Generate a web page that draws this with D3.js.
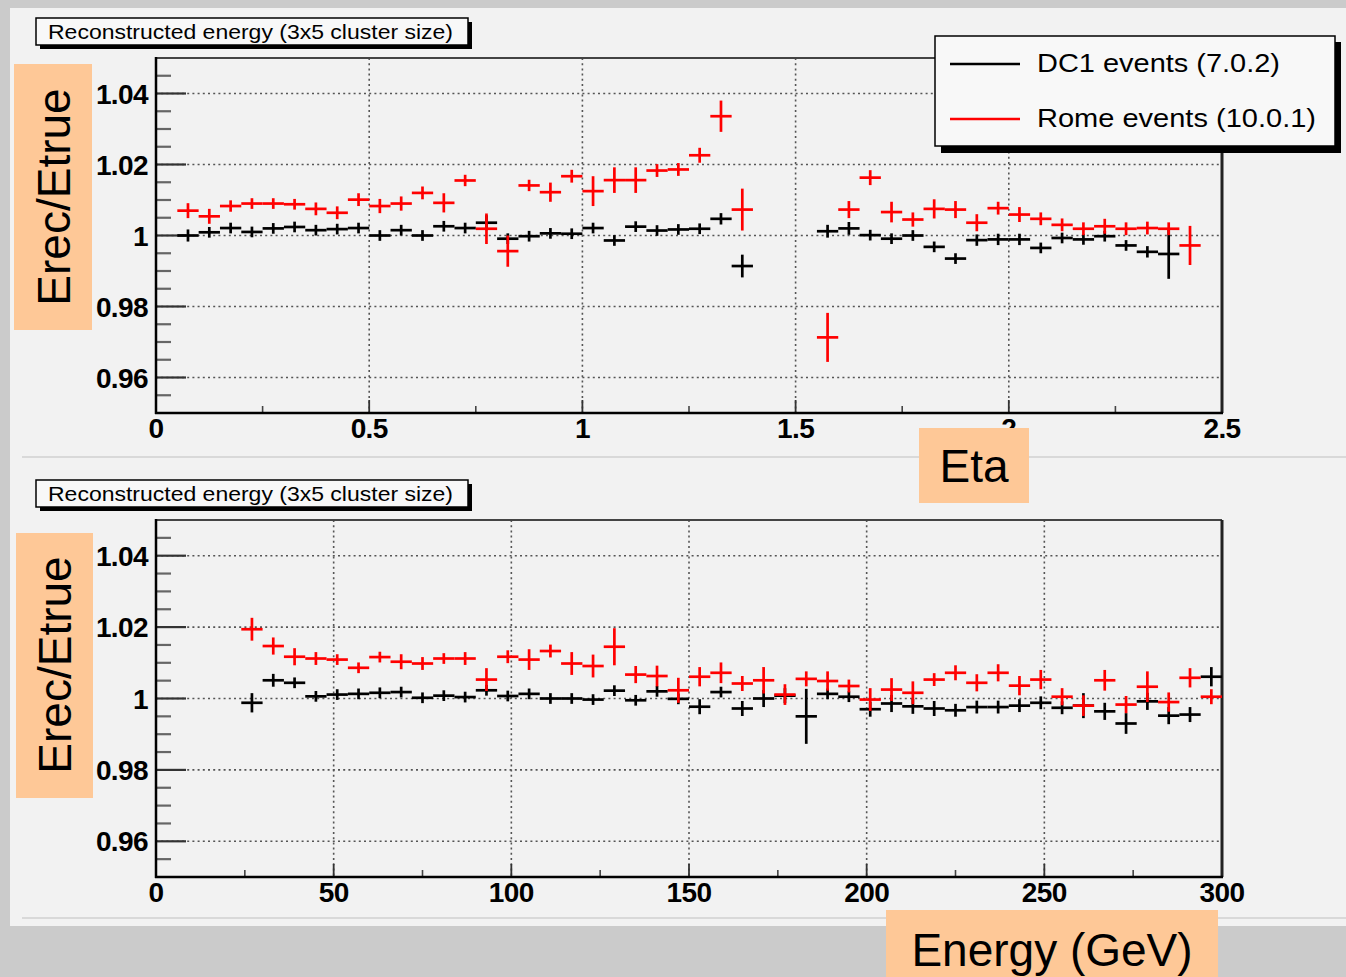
<!DOCTYPE html>
<html>
<head>
<meta charset="utf-8">
<script src="https://cdn.jsdelivr.net/npm/d3@7"></script>
<style>
  html, body { margin: 0; padding: 0; background: #cbcbcb; }
  svg { display: block; }
  text { font-family: "Liberation Sans", Arial, Helvetica, sans-serif; }
</style>
</head>
<body>
<svg id="c" width="1346" height="977"></svg>
<script>
// ---- Eta binning (bin centres, 0.05 wide) ----
const etaCentres = [0.075,0.125,0.175,0.225,0.275,0.325,0.375,0.425,0.475,0.525,0.575,0.625,0.675,0.725,0.775,0.825,0.875,0.925,0.975,1.025,1.075,1.125,1.175,1.225,1.275,1.325,1.375,
                    1.575,1.625,1.675,1.725,1.775,1.825,1.875,1.925,1.975,2.025,2.075,2.125,2.175,2.225,2.275,2.325,2.375,2.425];
const dc1Eta    = [1.0000,1.0009,1.0021,1.0010,1.0020,1.0024,1.0015,1.0018,1.0021,1.0000,1.0015,1.0000,1.0026,1.0021,1.0036,0.9991,0.9998,1.0006,1.0005,1.0021,0.9986,1.0025,1.0014,1.0017,1.0019,1.0047,0.9914,
                   1.0012,1.0020,1.0001,0.9991,1.0000,0.9968,0.9935,0.9987,0.9989,0.9989,0.9965,0.9993,0.9989,0.9998,0.9972,0.9954,0.9948,null];
const dc1EtaErr = [0.0010,0.0008,0.0008,0.0008,0.0008,0.0008,0.0008,0.0008,0.0008,0.0008,0.0008,0.0008,0.0008,0.0008,0.0014,0.0008,0.0008,0.0008,0.0008,0.0008,0.0008,0.0008,0.0008,0.0008,0.0008,0.0009,0.0025,
                   0.0011,0.0011,0.0008,0.0008,0.0008,0.0008,0.0008,0.0009,0.0009,0.0009,0.0008,0.0008,0.0008,0.0008,0.0008,0.0009,0.0063,null];
const romeEta   = [1.0070,1.0054,1.0083,1.0090,1.0090,1.0088,1.0075,1.0064,1.0101,1.0083,1.0090,1.0120,1.0092,1.0155,1.0019,0.9956,1.0141,1.0122,1.0167,1.0125,1.0156,1.0156,1.0183,1.0186,1.0226,1.0336,1.0073,
                   0.9713,1.0073,1.0163,1.0066,1.0045,1.0075,1.0073,1.0036,1.0077,1.0059,1.0047,1.0030,1.0019,1.0026,1.0019,1.0021,1.0019,0.9972];
const romeEtaErr= [0.0014,0.0014,0.0009,0.0008,0.0008,0.0008,0.0011,0.0011,0.0011,0.0013,0.0013,0.0011,0.0020,0.0009,0.0036,0.0037,0.0009,0.0020,0.0011,0.0035,0.0029,0.0029,0.0011,0.0011,0.0014,0.0037,0.0052,
                   0.0062,0.0017,0.0014,0.0022,0.0013,0.0020,0.0017,0.0017,0.0011,0.0014,0.0011,0.0011,0.0011,0.0014,0.0011,0.0011,0.0011,0.0048];
const etaHalfWidth = 0.025;

// ---- Energy binning (bin centres in GeV, 6 GeV wide) ----
const energyCentres = [27,33,39,45,51,57,63,69,75,81,87,93,99,105,111,117,123,129,135,141,147,153,159,165,171,177,183,189,195,
                       201,207,213,219,225,231,237,243,249,255,261,267,273,279,285,291,297];
const dc1E     = [0.9988,1.0051,1.0044,1.0006,1.0011,1.0013,1.0016,1.0018,1.0002,1.0008,1.0004,1.0023,1.0007,1.0013,1.0000,1.0000,0.9997,1.0022,0.9995,1.0020,0.9999,0.9977,1.0018,0.9972,1.0000,1.0008,0.9950,1.0013,1.0005,
                  0.9970,0.9986,0.9978,0.9972,0.9967,0.9976,0.9976,0.9980,0.9988,0.9974,0.9980,0.9964,0.9930,0.9992,0.9952,0.9955,1.0061];
const dc1EErr  = [0.0020,0.0011,0.0008,0.0008,0.0008,0.0008,0.0008,0.0008,0.0008,0.0008,0.0008,0.0008,0.0008,0.0008,0.0008,0.0008,0.0008,0.0008,0.0008,0.0008,0.0008,0.0014,0.0008,0.0014,0.0017,0.0014,0.0070,0.0008,0.0008,
                  0.0014,0.0017,0.0014,0.0014,0.0011,0.0011,0.0011,0.0011,0.0011,0.0011,0.0028,0.0017,0.0022,0.0017,0.0017,0.0014,0.0020];
const romeE    = [1.0194,1.0147,1.0117,1.0112,1.0109,1.0086,1.0116,1.0103,1.0098,1.0112,1.0112,1.0053,1.0117,1.0109,1.0133,1.0098,1.0091,1.0145,1.0067,1.0063,1.0023,1.0061,1.0072,1.0042,1.0051,1.0011,1.0055,1.0049,1.0035,
                  0.9997,1.0025,1.0016,1.0053,1.0072,1.0044,1.0072,1.0036,1.0053,1.0005,0.9980,1.0051,0.9983,1.0033,0.9990,1.0058,1.0005];
const romeEErr = [0.0025,0.0017,0.0017,0.0011,0.0008,0.0008,0.0008,0.0014,0.0011,0.0008,0.0011,0.0025,0.0011,0.0022,0.0011,0.0025,0.0025,0.0045,0.0017,0.0022,0.0028,0.0020,0.0022,0.0014,0.0030,0.0022,0.0014,0.0020,0.0011,
                  0.0025,0.0025,0.0025,0.0011,0.0014,0.0017,0.0017,0.0020,0.0020,0.0017,0.0022,0.0022,0.0017,0.0036,0.0020,0.0020,0.0014];
const energyHalfWidth = 3;

// ---- Axis ticks and texts ----
const yTicks = [0.96, 0.98, 1.00, 1.02, 1.04];
const yTickLabels = ["0.96", "0.98", "1", "1.02", "1.04"];
const etaTicks = [0, 0.5, 1, 1.5, 2, 2.5];
const etaTickLabels = ["0", "0.5", "1", "1.5", "2", "2.5"];
const energyTicks = [0, 50, 100, 150, 200, 250, 300];
const energyTickLabels = ["0", "50", "100", "150", "200", "250", "300"];
const seriesNames = ["DC1  events (7.0.2)", "Rome events (10.0.1)"];
const seriesColors = ["#000000", "#ff0000"];
const padTitle = "Reconstructed energy (3x5 cluster size)";

const svg = d3.select("#c");

// canvas
svg.append("rect").attr("x", 10).attr("y", 8).attr("width", 1336).attr("height", 918).attr("fill", "#f2f2f2");
svg.append("line").attr("x1", 22).attr("x2", 1346).attr("y1", 457).attr("y2", 457).attr("stroke", "#d9d9d9").attr("stroke-width", 2);
svg.append("line").attr("x1", 22).attr("x2", 1346).attr("y1", 918).attr("y2", 918).attr("stroke", "#d9d9d9").attr("stroke-width", 2);

function drawPanel(opt) {
  const { x, y, xTicks, xLabels, xMinor, yMinor, series, titleY, labelY } = opt;
  const g = svg.append("g");
  const [x0, x1] = x.range();
  const [yb, yt] = y.range();

  // grid
  g.selectAll(".hg").data(yTicks).enter().append("line")
    .attr("x1", x0).attr("x2", x1).attr("y1", d => y(d)).attr("y2", d => y(d))
    .attr("stroke", "#555").attr("stroke-width", 1.6).attr("stroke-dasharray", "2 3.2");
  g.selectAll(".vg").data(xTicks.slice(1, -1)).enter().append("line")
    .attr("x1", d => x(d)).attr("x2", d => x(d)).attr("y1", yt).attr("y2", yb)
    .attr("stroke", "#555").attr("stroke-width", 1.6).attr("stroke-dasharray", "2 3.2");

  // y ticks (inside frame)
  g.selectAll(".ymin").data(yMinor).enter().append("line")
    .attr("x1", x0).attr("x2", x0 + 15).attr("y1", d => y(d)).attr("y2", d => y(d))
    .attr("stroke", "#666").attr("stroke-width", 2.2);
  g.selectAll(".ymaj").data(yTicks).enter().append("line")
    .attr("x1", x0).attr("x2", x0 + 30).attr("y1", d => y(d)).attr("y2", d => y(d))
    .attr("stroke", "#333").attr("stroke-width", 2.2);
  // x ticks
  g.selectAll(".xmin").data(xMinor).enter().append("line")
    .attr("x1", d => x(d)).attr("x2", d => x(d)).attr("y1", yb).attr("y2", yb - 7)
    .attr("stroke", "#444").attr("stroke-width", 1.6);
  g.selectAll(".xmaj").data(xTicks).enter().append("line")
    .attr("x1", d => x(d)).attr("x2", d => x(d)).attr("y1", yb).attr("y2", yb - 13)
    .attr("stroke", "#333").attr("stroke-width", 1.8);

  // frame
  g.append("line").attr("x1", x0).attr("x2", x1).attr("y1", yt).attr("y2", yt).attr("stroke", "#444").attr("stroke-width", 2);
  g.append("line").attr("x1", x1).attr("x2", x1).attr("y1", yt).attr("y2", yb).attr("stroke", "#222").attr("stroke-width", 3);
  g.append("line").attr("x1", x0).attr("x2", x0).attr("y1", yt - 1).attr("y2", yb + 1).attr("stroke", "#000").attr("stroke-width", 2.5);
  g.append("line").attr("x1", x0 - 1).attr("x2", x1 + 1).attr("y1", yb).attr("y2", yb).attr("stroke", "#000").attr("stroke-width", 2.5);

  // tick labels
  g.selectAll(".yl").data(yTicks).enter().append("text")
    .attr("x", x0 - 8).attr("y", d => y(d)).attr("dy", "0.36em")
    .attr("text-anchor", "end").attr("font-size", 28).attr("font-weight", "bold")
    .attr("letter-spacing", -0.6)
    .text((d, i) => yTickLabels[i]);
  g.selectAll(".xl").data(xTicks).enter().append("text")
    .attr("x", d => x(d)).attr("y", labelY)
    .attr("text-anchor", "middle").attr("font-size", 28).attr("font-weight", "bold")
    .attr("letter-spacing", -0.6)
    .text((d, i) => xLabels[i]);

  // data: DC1 first, Rome on top
  series.forEach(s => {
    const pts = s.centres.map((c, i) => ({ c, v: s.values[i], e: s.errors[i] })).filter(p => p.v != null);
    const sg = g.append("g").attr("stroke", s.color).attr("stroke-width", 2.7).attr("fill", "none");
    sg.selectAll(".h").data(pts).enter().append("line")
      .attr("x1", p => x(p.c - s.half)).attr("x2", p => x(p.c + s.half))
      .attr("y1", p => y(p.v)).attr("y2", p => y(p.v));
    sg.selectAll(".v").data(pts).enter().append("line")
      .attr("x1", p => x(p.c)).attr("x2", p => x(p.c))
      .attr("y1", p => y(p.v - p.e) + 2.5).attr("y2", p => y(p.v + p.e) - 2.5);
  });

  // pad title box
  const tb = svg.append("g");
  tb.append("rect").attr("x", 40).attr("y", titleY + 4).attr("width", 432).attr("height", 27).attr("fill", "#000");
  tb.append("rect").attr("x", 36).attr("y", titleY).attr("width", 432).attr("height", 27)
    .attr("fill", "#f8f8f8").attr("stroke", "#000").attr("stroke-width", 1.5);
  tb.append("text").attr("x", 48).attr("y", titleY + 21).attr("font-size", 21)
    .attr("textLength", 405).attr("lengthAdjust", "spacingAndGlyphs").text(padTitle);
}

// ---- top panel: vs eta ----
const xEta = d3.scaleLinear().domain([0, 2.5]).range([156, 1222]);
const yTop = d3.scaleLinear().domain([0.95, 1.05]).range([413, 58]);
const yMinorTicks = [0.955,0.965,0.97,0.975,0.985,0.99,0.995,1.005,1.01,1.015,1.025,1.03,1.035,1.045];
drawPanel({
  x: xEta, y: yTop, xTicks: etaTicks, xLabels: etaTickLabels,
  xMinor: [0.25, 0.75, 1.25, 1.75, 2.25], yMinor: yMinorTicks,
  titleY: 18, labelY: 438,
  series: [
    { centres: etaCentres, values: dc1Eta, errors: dc1EtaErr, half: etaHalfWidth, color: seriesColors[0] },
    { centres: etaCentres, values: romeEta, errors: romeEtaErr, half: etaHalfWidth, color: seriesColors[1] }
  ]
});

// ---- bottom panel: vs energy ----
const xEn = d3.scaleLinear().domain([0, 300]).range([156, 1222]);
const yBot = d3.scaleLinear().domain([0.95, 1.05]).range([877, 520]);
drawPanel({
  x: xEn, y: yBot, xTicks: energyTicks, xLabels: energyTickLabels,
  xMinor: [25, 75, 125, 175, 225, 275], yMinor: yMinorTicks,
  titleY: 480, labelY: 902,
  series: [
    { centres: energyCentres, values: dc1E, errors: dc1EErr, half: energyHalfWidth, color: seriesColors[0] },
    { centres: energyCentres, values: romeE, errors: romeEErr, half: energyHalfWidth, color: seriesColors[1] }
  ]
});

// ---- legend ----
const lg = svg.append("g");
lg.append("rect").attr("x", 941).attr("y", 42).attr("width", 400).attr("height", 111).attr("fill", "#000");
lg.append("rect").attr("x", 935).attr("y", 36).attr("width", 400).attr("height", 110)
  .attr("fill", "#f8f8f8").attr("stroke", "#000").attr("stroke-width", 1.5);
const legendRows = [64, 119];
const legendLens = [243, 279];
seriesNames.forEach((name, i) => {
  lg.append("line").attr("x1", 950).attr("x2", 1020).attr("y1", legendRows[i]).attr("y2", legendRows[i])
    .attr("stroke", seriesColors[i]).attr("stroke-width", 2.4);
  lg.append("text").attr("x", 1037).attr("y", legendRows[i] + 8).attr("font-size", 25)
    .attr("textLength", legendLens[i]).attr("lengthAdjust", "spacingAndGlyphs").text(name);
});

// ---- axis title boxes ----
const peach = "#fec897";
function labelBox(x, y, w, h, text, cx, cy, rotate) {
  const g = svg.append("g");
  g.append("rect").attr("x", x).attr("y", y).attr("width", w).attr("height", h).attr("fill", peach);
  g.append("text")
    .attr("transform", `translate(${cx},${cy})` + (rotate ? " rotate(-90)" : ""))
    .attr("text-anchor", "middle").attr("font-size", 46).attr("fill", "#000")
    .text(text);
}
labelBox(14, 64, 78, 266, "Erec/Etrue", 70, 197, true);
labelBox(16, 533, 77, 265, "Erec/Etrue", 71, 665, true);
labelBox(919, 428, 110, 75, "Eta", 974, 482, false);
labelBox(886, 910, 332, 67, "Energy (GeV)", 1052, 966, false);
</script>
</body>
</html>
